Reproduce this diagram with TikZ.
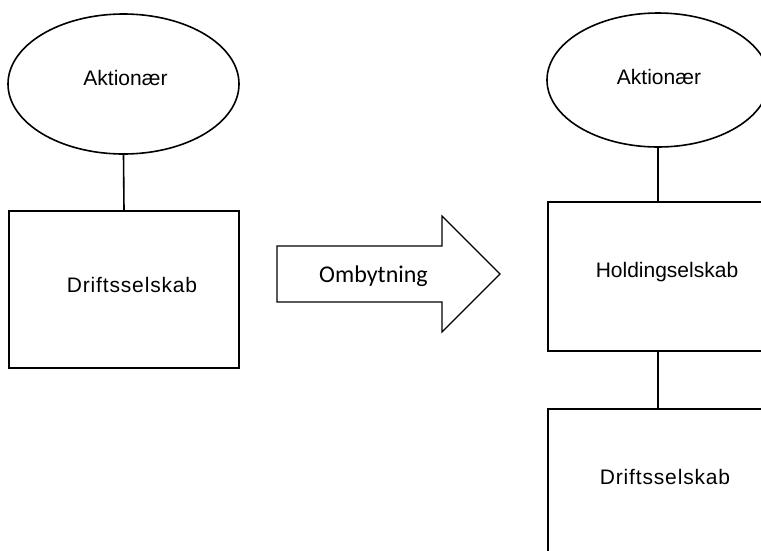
\documentclass[tikz,border=0pt]{standalone}
\usepackage{fontspec}
\setmainfont{Liberation Sans}
\newfontfamily\spacedfont[LetterSpace=4]{Liberation Sans}
\newfontfamily\calibrifont{Carlito}
\usetikzlibrary{shapes.geometric}
\begin{document}
\begin{tikzpicture}[x=1pt,y=-1pt,
  outline/.style={draw=black,line width=1.6pt,inner sep=0pt},
  owner/.style={outline,ellipse},
  company/.style={outline,rectangle},
  tie/.style={draw=black,line width=1.6pt},
  lbl/.style={inner sep=0pt,anchor=base,font=\fontsize{21}{24}\selectfont},
  spaced/.style={lbl,font=\fontsize{21}{24}\spacedfont}]
  \fill[white] (0,0) rectangle (761,550);
  \useasboundingbox (0,0) rectangle (761,550);
  \clip (0,0) rectangle (761,550);

  % before the exchange
  \node[owner,minimum width=231pt,minimum height=140pt] (own1) at (123.5,84) {};
  \node[company,minimum width=230pt,minimum height=157pt] (ops1) at (124,289.5) {};
  \draw[tie] (own1.south) -- (ops1.north);
  \node[lbl] (t-own1) at (125.5,85) {Aktionær};
  \node[spaced] (t-ops1) at (132,292) {Driftsselskab};

  % share exchange arrow
  \draw[line width=1.2pt,line join=miter,fill=white]
    (277,246) coordinate (a1) -- (442,246) -- (442,216) -- (500,274) coordinate (tip)
    -- (442,332) -- (442,302) -- (277,302) -- cycle;
  \node[inner sep=0pt,anchor=base,font=\fontsize{24}{28}\calibrifont] (t-swap) at (373.5,282) {Ombytning};

  % after the exchange
  \node[owner,minimum width=222pt,minimum height=134pt] (own2) at (658,80) {};
  \node[company,minimum width=222pt,minimum height=149pt] (hold) at (659,276.5) {};
  \node[company,minimum width=222pt,minimum height=160pt] (ops2) at (659,489) {};
  \draw[tie] (own2.south) -- (own2.south |- hold.north);
  \draw[tie] (own2.south |- hold.south) -- (own2.south |- ops2.north);
  \node[lbl] (t-own2) at (659,84) {Aktionær};
  \node[lbl] (t-hold) at (667,277) {Holdingselskab};
  \node[spaced] (t-ops2) at (665,484) {Driftsselskab};
\end{tikzpicture}
\end{document}
